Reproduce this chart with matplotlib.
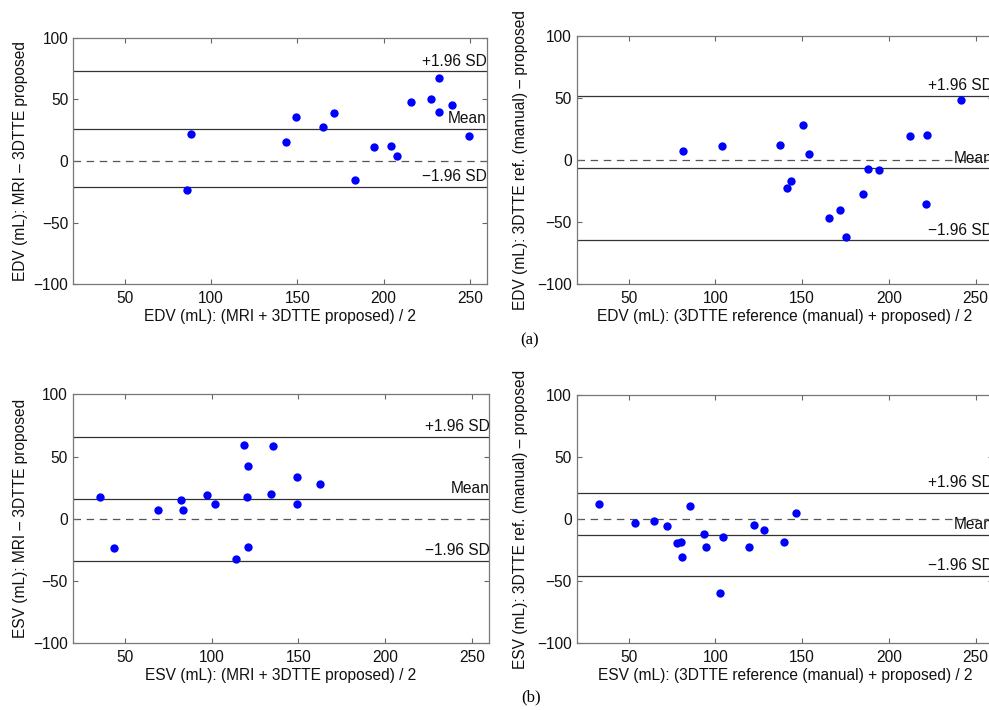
import matplotlib
matplotlib.use("Agg")
import matplotlib.pyplot as plt
import numpy as np

plt.rcParams['font.family'] = ['Liberation Sans', 'DejaVu Sans']
plt.rcParams['font.size'] = 11

# (a) EDV: MRI vs proposed
edv_mri_x = [86.3, 88.4, 143.7, 149.1, 164.8, 171.5, 183.5, 194.3, 204.5, 207.6,
             215.7, 227.6, 232.3, 231.9, 239.6, 249.6]
edv_mri_y = [-23.5, 22.2, 15.1, 35.7, 27.3, 38.9, -15.7, 11.4, 12.2, 3.8,
             47.8, 50.5, 67.6, 39.5, 45.1, 20.5]
edv_mri_lines = [72.7, 25.9, -20.8]   # +1.96 SD, mean, -1.96 SD

# (a) EDV: 3DTTE manual reference vs proposed
edv_ref_x = [81.1, 103.8, 137.4, 150.7, 153.7, 141.3, 143.6, 165.7, 172.0, 175.1,
             185.1, 188.0, 194.3, 212.4, 222.1, 221.6, 241.7]
edv_ref_y = [7.7, 11.7, 11.9, 28.6, 5.2, -22.1, -16.8, -46.3, -40.1, -61.6,
             -27.2, -6.8, -8.2, 19.7, 20.0, -35.6, 48.7]
edv_ref_lines = [51.7, -6.6, -64.6]

# (b) ESV: MRI vs proposed
esv_mri_x = [36.0, 43.7, 68.9, 82.5, 83.3, 97.3, 102.1, 118.7, 120.8, 120.4,
             121.2, 114.1, 135.2, 134.4, 149.1, 149.3, 162.5]
esv_mri_y = [17.9, -23.2, 7.4, 15.2, 6.8, 18.9, 12.2, 58.9, 42.8, 17.6,
             -22.4, -32.6, 58.4, 20.3, 33.2, 11.7, 28.1]
esv_mri_lines = [65.9, 16.0, -34.0]

# (b) ESV: 3DTTE manual reference vs proposed
esv_ref_x = [32.9, 53.7, 64.6, 72.1, 85.4, 77.9, 80.4, 80.7, 93.6, 94.8,
             104.6, 102.6, 119.2, 122.0, 128.2, 139.3, 146.3]
esv_ref_y = [12.2, -2.8, -1.2, -5.5, 10.9, -19.2, -18.1, -30.5, -11.7, -22.1,
             -14.4, -59.7, -22.7, -4.4, -9.0, -18.7, 5.2]
esv_ref_lines = [21.1, -12.5, -46.0]

line_texts = ['+1.96 SD', 'Mean', '\u22121.96 SD']

W, H = 989, 710
FS = 11.2
fig = plt.figure(figsize=(W / 100, H / 100), dpi=100)


def px_axes(left, top, right, bottom):
    return fig.add_axes([left / W, (H - bottom) / H, (right - left) / W, (bottom - top) / H])


def bland_altman(ax, xs, ys, lines, xlabel, ylabel, ylab_x):
    ax.axhline(0, color='#555555', lw=0.9, ls=(0, (6, 4.5)), zorder=1)
    for val, txt in zip(lines, line_texts):
        ax.axhline(val, color='#333333', lw=0.9, zorder=1)
        ax.annotate(txt, xy=(260, val), xytext=(0, 2), textcoords='offset points',
                    ha='right', va='bottom', fontsize=FS, color='#111111',
                    annotation_clip=False)
    ax.scatter(xs, ys, s=36, color='#0000ff', zorder=3, linewidths=0)
    ax.set_xlim(20, 260)
    ax.set_ylim(-100, 100)
    ax.set_xticks([50, 100, 150, 200, 250])
    ax.set_yticks([-100, -50, 0, 50, 100])
    ax.tick_params(direction='in', length=3.5, width=0.8, color='#666666',
                   top=True, right=True, labelsize=FS, labelcolor='#111111')
    ax.tick_params(axis='x', pad=5)
    for s in ax.spines.values():
        s.set_color('#777777')
        s.set_linewidth(0.9)
    ax.set_xlabel(xlabel, fontsize=FS, color='#111111')
    ax.set_ylabel(ylabel, fontsize=FS, color='#111111')
    ax.xaxis.set_label_coords(0.5, -0.1)
    ax.yaxis.set_label_coords(ylab_x, 0.5)


ax1 = px_axes(73, 37.7, 487, 284.3)
bland_altman(ax1, edv_mri_x, edv_mri_y, edv_mri_lines,
             'EDV (mL): (MRI + 3DTTE proposed) / 2',
             'EDV (mL): MRI \u2013 3DTTE proposed', -0.108)

ax2 = px_axes(576.7, 36, 993, 284.3)
bland_altman(ax2, edv_ref_x, edv_ref_y, edv_ref_lines,
             'EDV (mL): (3DTTE reference (manual) + proposed) / 2',
             'EDV (mL): 3DTTE ref. (manual) \u2013 proposed', -0.116)

ax3 = px_axes(72.7, 394.3, 489.3, 643.3)
bland_altman(ax3, esv_mri_x, esv_mri_y, esv_mri_lines,
             'ESV (mL): (MRI + 3DTTE proposed) / 2',
             'ESV (mL): MRI \u2013 3DTTE proposed', -0.108)

ax4 = px_axes(576.7, 395, 993, 643.3)
bland_altman(ax4, esv_ref_x, esv_ref_y, esv_ref_lines,
             'ESV (mL): (3DTTE reference (manual) + proposed) / 2',
             'ESV (mL): 3DTTE ref. (manual) \u2013 proposed', -0.116)

fig.text(530 / W, 1 - 340 / H, '(a)', family=['Liberation Serif', 'DejaVu Serif'],
         fontsize=12, ha='center', va='center')
fig.text(531 / W, 1 - 697 / H, '(b)', family=['Liberation Serif', 'DejaVu Serif'],
         fontsize=12, ha='center', va='center')

fig.savefig('out.png', dpi=100)
